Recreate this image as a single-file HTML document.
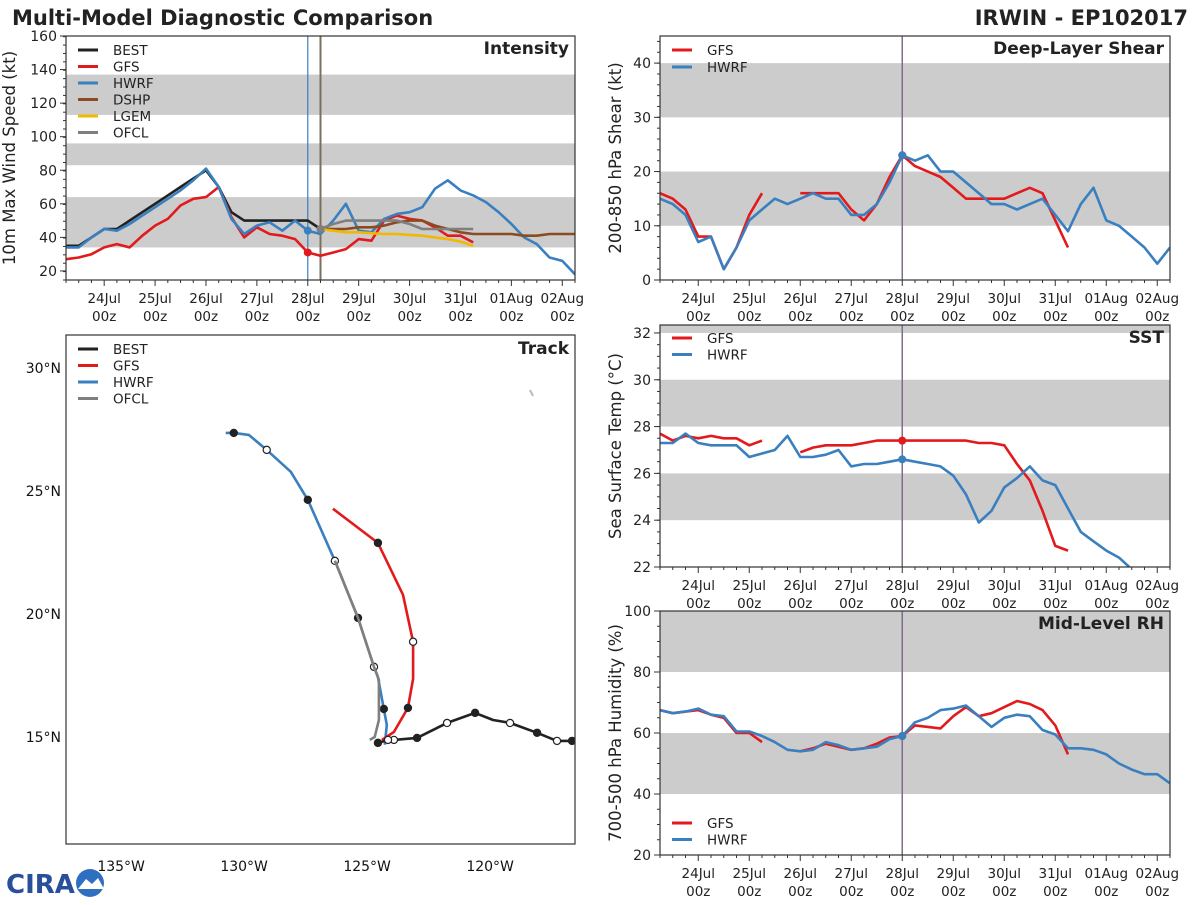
<!DOCTYPE html>
<html><head><meta charset="utf-8">
<style>
html,body{margin:0;padding:0;background:#fff;}
svg text{font-family:"DejaVu Sans","Liberation Sans",sans-serif;}
</style></head>
<body>
<svg id="fig" width="1200" height="900" viewBox="0 0 1200 900" xmlns="http://www.w3.org/2000/svg">
<rect width="1200" height="900" fill="#fff"/>
<text x="12" y="25" font-size="21" font-weight="bold" fill="#222">Multi-Model Diagnostic Comparison</text>
<text x="1188" y="25" font-size="21" font-weight="bold" fill="#222" text-anchor="end">IRWIN - EP102017</text>
<g>
<text x="6" y="893" font-size="26" font-weight="bold" fill="#2a4f9a" font-family="Liberation Serif,serif">CIRA</text>
<circle cx="90" cy="883" r="14" fill="#2f6fc0"/>
<path d="M78 889 L86 879 L92 884 L98 878 L104 889 Z" fill="#fff"/>
</g>
<g id="plots"></g>
</svg>
<script>
// ---------- data (6-hourly from 23Jul 06z) ----------
const dayLabels = ["24Jul","25Jul","26Jul","27Jul","28Jul","29Jul","30Jul","31Jul","01Aug","02Aug"];
const intBEST = [35,35,40,45,45,50,55,60,65,70,75,80,70,55,50,50,50,50,50,50,45];
const intGFS  = [27,28,30,34,36,34,41,47,51,59,63,64,70,52,40,46,42,41,39,31,29,31,33,39,38,50,53,51,50,46,41,41,37];
const intHWRF = [34,34,40,45,44,48,53,58,63,68,74,81,70,51,42,47,49,44,50,44,42,50,60,44,43,51,54,55,58,69,74,68,65,61,55,48,40,36,28,26,18];
const intDSHP = [null,null,null,null,null,null,null,null,null,null,null,null,null,null,null,null,null,null,null,null,45,45,45,46,46,47,49,50,50,47,45,43,42,42,42,42,41,41,42,42,42];
const intLGEM = [null,null,null,null,null,null,null,null,null,null,null,null,null,null,null,null,null,null,null,null,45,44,43,43,42.5,42,42,41.5,41,40,39,37.5,35];
const intOFCL = [null,null,null,null,null,null,null,null,null,null,null,null,null,null,null,null,null,null,null,null,45,48,50,50,50,50,50,48,45,45,45,45,45];
const shrGFS  = [16,15,13,8,8,2,6,12,16,null,null,16,16,16,16,13,11,14,19,23,21,20,19,17,15,15,15,15,16,17,16,11,6];
const shrHWRF = [15,14,12,7,8,2,6,11,13,15,14,15,16,15,15,12,12,14,18,23,22,23,20,20,18,16,14,14,13,14,15,12,9,14,17,11,10,8,6,3,6];
const sstGFS  = [27.7,27.4,27.6,27.5,27.6,27.5,27.5,27.2,27.4,null,null,26.9,27.1,27.2,27.2,27.2,27.3,27.4,27.4,27.4,27.4,27.4,27.4,27.4,27.4,27.3,27.3,27.2,26.4,25.7,24.4,22.9,22.7];
const sstHWRF = [27.3,27.3,27.7,27.3,27.2,27.2,27.2,26.7,26.85,27.0,27.6,26.7,26.7,26.8,27.0,26.3,26.4,26.4,26.5,26.6,26.5,26.4,26.3,25.9,25.1,23.9,24.4,25.4,25.8,26.3,25.7,25.5,24.5,23.5,23.1,22.7,22.4,21.9];
const rhGFS   = [67.5,66.5,67,67.5,66,65,60,60,57,null,null,54,55,56.5,55.5,54.5,55,56.5,58.5,59,62.5,62,61.5,65.5,68.5,65.5,66.5,68.5,70.5,69.5,67.5,62.5,53];
const rhHWRF  = [67.5,66.5,67,68,66,65.5,60.5,60.5,59,57,54.5,54,54.5,57,56,54.5,55,55.5,58,59,63.5,65,67.5,68,69,65.5,62,65,66,65.5,61,59.5,55,55,54.5,53,50,48,46.5,46.5,43.5];
// track (lon degE, lat)
const trkBESTlon = [-116.67,-117.28,-118.09,-119.19,-119.88,-120.61,-121.75,-122.97,-123.91,-124.15,-124.56];
const trkBESTlat = [14.84,14.84,15.17,15.57,15.69,15.98,15.57,14.96,14.88,14.88,14.76];
const trkBESTmk  = [1,0,1,0,-1,1,0,1,0,0,1];
const trkHWRFlon = [-124.28,-124.2,-124.32,-124.56,-124.72,-125.37,-126.31,-127.41,-128.1,-129.08,-129.81,-130.42,-130.75];
const trkHWRFlat = [14.68,15.49,16.14,17.44,17.85,19.84,22.16,24.64,25.78,26.67,27.28,27.36,27.36];
const trkHWRFmk  = [-1,-1,1,-1,0,1,0,1,-1,0,-1,1,-1];
const trkGFSlon  = [-124.4,-123.91,-123.34,-123.13,-123.13,-123.54,-124.56,-126.39];
const trkGFSlat  = [14.88,15.2,16.18,17.36,18.87,20.78,22.89,24.28];
const trkGFSmk   = [-1,-1,1,-1,0,-1,1,-1];
const trkOFCLlon = [-124.89,-124.69,-124.52,-124.52,-124.72,-125.37,-126.31];
const trkOFCLlat = [14.88,15.0,15.69,17.32,17.85,19.84,22.16];

const C = {BEST:"#222222",GFS:"#e31a1c",HWRF:"#3a7fbf",DSHP:"#8b4a1f",LGEM:"#f0b800",OFCL:"#7f7f7f"};
const NS="http://www.w3.org/2000/svg";
const root=document.getElementById("plots");
function el(tag,attrs,parent){const e=document.createElementNS(NS,tag);for(const k in attrs)e.setAttribute(k,attrs[k]);(parent||root).appendChild(e);return e;}

function timePanel(cfg){
  const g=el("g",{});
  
  
  const {x0,x1,y0,y1,vmin,vmax}=cfg;
  const X=i=>x0+(i*6/24)*(x1-x0)/10;
  const Y=v=>y1-(v-vmin)/(vmax-vmin)*(y1-y0);
  const clipId="clip"+cfg.name;
  const cp=el("clipPath",{id:clipId},g);el("rect",{x:x0,y:y0,width:x1-x0,height:y1-y0},cp);
  cfg.bands.forEach(b=>{
    const r=el("rect",{x:x0,y:Y(Math.min(b[1],vmax)),width:x1-x0,height:Y(b[0])-Y(Math.min(b[1],vmax)),fill:"#cccccc"},g);
    
    
  });
  cfg.vlines.forEach(v=>{const l=el("line",{x1:X(v[0]),x2:X(v[0]),y1:y0,y2:y1,stroke:v[1],"stroke-width":v[2]},g);
    
    });
  const sg=el("g",{"clip-path":"url(#"+clipId+")"},g);
  cfg.series.forEach(s=>{
    let d="",pen=false;
    s.data.forEach((v,i)=>{if(v==null){pen=false;return;}d+=(pen?"L":"M")+X(i).toFixed(1)+" "+Y(v).toFixed(1);pen=true;});
    const p=el("path",{d:d,fill:"none",stroke:C[s.key],"stroke-width":2.6,"stroke-linejoin":"round"},sg);
    
    
    if(s.dot!=null&&s.data[s.dot]!=null){const c=el("circle",{cx:X(s.dot),cy:Y(s.data[s.dot]),r:4,fill:s.dotColor||C[s.key]},sg);
      
      }
  });
  el("rect",{x:x0,y:y0,width:x1-x0,height:y1-y0,fill:"none",stroke:"#333","stroke-width":1.2},g);
  for(let v=cfg.ymajor0;v<=vmax+1e-6;v+=cfg.ystep){
    el("line",{x1:x0-6,x2:x0,y1:Y(v),y2:Y(v),stroke:"#333"},g);
    const t=el("text",{x:x0-9,y:Y(v)+5,"font-size":14,"text-anchor":"end",fill:"#222"},g);t.textContent=v;
    
    
  }
  for(let v=vmin;v<=vmax+1e-6;v+=cfg.yminor){if(v>=vmin)el("line",{x1:x0-3,x2:x0,y1:Y(v),y2:Y(v),stroke:"#333"},g);}
  for(let i=0;i<=40;i++){const major=(i%4===3);el("line",{x1:X(i),x2:X(i),y1:y1,y2:y1+(major?6:3),stroke:"#333"},g);}
  dayLabels.forEach((lab,k)=>{const xx=X(3+4*k);
    const t=el("text",{x:xx,y:y1+23,"font-size":13.5,"text-anchor":"middle",fill:"#222"},g);t.textContent=lab;
    
    
    const t2=el("text",{x:xx,y:y1+41,"font-size":13.5,"text-anchor":"middle",fill:"#222"},g);t2.textContent="00z";});
  const cy=(y0+y1)/2;const yl=el("text",{x:0,y:0,"font-size":16.5,"text-anchor":"middle",fill:"#222",transform:`translate(${cfg.ylabx},${cy}) rotate(-90)`},g);yl.textContent=cfg.ylabel;
  
  
  const tt=el("text",{x:x1-6,y:y0+18,"font-size":17,"font-weight":"bold","text-anchor":"end",fill:"#222"},g);tt.textContent=cfg.title;
  
  
  legend(g,x0,cfg.legY,cfg.series.map(s=>s.key),cfg.legStep);
}
function legend(g,x0,ly,keys,step){
  keys.forEach((k,j)=>{const yy=ly+j*step;
    const lg=el("g",{},g);
    
    
    el("line",{x1:x0+12,x2:x0+32,y1:yy,y2:yy,stroke:C[k],"stroke-width":3},lg);
    const t=el("text",{x:x0+47,y:yy+5,"font-size":13.5,fill:"#222"},lg);t.textContent=k;});
}

const bandsTC=[[34,64],[83,96],[113,137]];
timePanel({name:"intensity-panel",x0:66,x1:575,y0:36,y1:280,vmin:14.6,vmax:160,ymajor0:20,ystep:20,yminor:5,
  bands:bandsTC,vlines:[[19,"#3a7fbf",1.2],[20,"#7a7060",2]],title:"Intensity",ylabel:"10m Max Wind Speed (kt)",ylabx:15,legY:50,legStep:16.5,
  series:[{key:"BEST",data:intBEST,dot:20,dotColor:"#7f7f7f"},{key:"GFS",data:intGFS,dot:19},{key:"HWRF",data:intHWRF,dot:19},{key:"DSHP",data:intDSHP},{key:"LGEM",data:intLGEM},{key:"OFCL",data:intOFCL,dot:20}]});
timePanel({name:"shear-panel",x0:660,x1:1170,y0:36,y1:280,vmin:0,vmax:45,ymajor0:0,ystep:10,yminor:2,
  bands:[[10,20],[30,40]],vlines:[[19,"#806e8c",1.5]],title:"Deep-Layer Shear",ylabel:"200-850 hPa Shear (kt)",ylabx:621,legY:50,legStep:17,
  series:[{key:"GFS",data:shrGFS,dot:19},{key:"HWRF",data:shrHWRF,dot:19}]});
timePanel({name:"sst-panel",x0:660,x1:1170,y0:325,y1:567,vmin:22,vmax:32.34,ymajor0:22,ystep:2,yminor:0.5,
  bands:[[24,26],[28,30],[32,33]],vlines:[[19,"#806e8c",1.5]],title:"SST",ylabel:"Sea Surface Temp (°C)",ylabx:621,legY:338,legStep:16.5,
  series:[{key:"GFS",data:sstGFS,dot:19},{key:"HWRF",data:sstHWRF,dot:19}]});
timePanel({name:"rh-panel",x0:660,x1:1170,y0:611,y1:855,vmin:20,vmax:100,ymajor0:20,ystep:20,yminor:5,
  bands:[[40,60],[80,100]],vlines:[[19,"#806e8c",1.5]],title:"Mid-Level RH",ylabel:"700-500 hPa Humidity (%)",ylabx:621,legY:823,legStep:16.5,
  series:[{key:"GFS",data:rhGFS,dot:19},{key:"HWRF",data:rhHWRF,dot:19}]});

(function(){
  const g=el("g",{});
  
  
  const x0=66,x1=575,y0=335,y1=844,s=24.6,lonL=-137.24,latT=31.34;
  const X=lon=>x0+(lon-lonL)*s, Y=lat=>y0+(latT-lat)*s;
  el("rect",{x:x0,y:y0,width:x1-x0,height:y1-y0,fill:"#fff"},g);
  const cp=el("clipPath",{id:"cliptrk"},g);el("rect",{x:x0,y:y0,width:x1-x0,height:y1-y0},cp);
  const sg=el("g",{"clip-path":"url(#cliptrk)"},g);
  el("path",{d:"M530 390 L533 396",stroke:"#bbb","stroke-width":2},sg);
  function track(key,lons,lats,mks){
    let d="";lons.forEach((lo,i)=>{d+=(i?"L":"M")+X(lo).toFixed(1)+" "+Y(lats[i]).toFixed(1);});
    const p=el("path",{d:d,fill:"none",stroke:C[key],"stroke-width":2.6,"stroke-linejoin":"round"},sg);
    
    
    if(mks)lons.forEach((lo,i)=>{if(mks[i]<0)return;
      const c=el("circle",{cx:X(lo),cy:Y(lats[i]),r:3.6,fill:mks[i]?"#222":"#fff",stroke:"#222","stroke-width":1.2},sg);
      
      });
  }
  track("HWRF",trkHWRFlon,trkHWRFlat,trkHWRFmk);
  track("OFCL",trkOFCLlon,trkOFCLlat,null);
  track("GFS",trkGFSlon,trkGFSlat,trkGFSmk);
  track("BEST",trkBESTlon,trkBESTlat,trkBESTmk);
  el("rect",{x:x0,y:y0,width:x1-x0,height:y1-y0,fill:"none",stroke:"#333","stroke-width":1.2},g);
  [-135,-130,-125,-120].forEach(lo=>{const t=el("text",{x:X(lo),y:871,"font-size":14,"text-anchor":"middle",fill:"#111"},g);t.textContent=(-lo)+"°W";
    
    });
  [30,25,20,15].forEach(la=>{const t=el("text",{x:61,y:Y(la)+5,"font-size":14,"text-anchor":"end",fill:"#111"},g);t.textContent=la+"°N";
    
    });
  const tt=el("text",{x:x1-6,y:y0+19,"font-size":17,"font-weight":"bold","text-anchor":"end",fill:"#222"},g);tt.textContent="Track";
  
  
  legend(g,x0,349,["BEST","GFS","HWRF","OFCL"],16.5);
})();
</script>
</body></html>
